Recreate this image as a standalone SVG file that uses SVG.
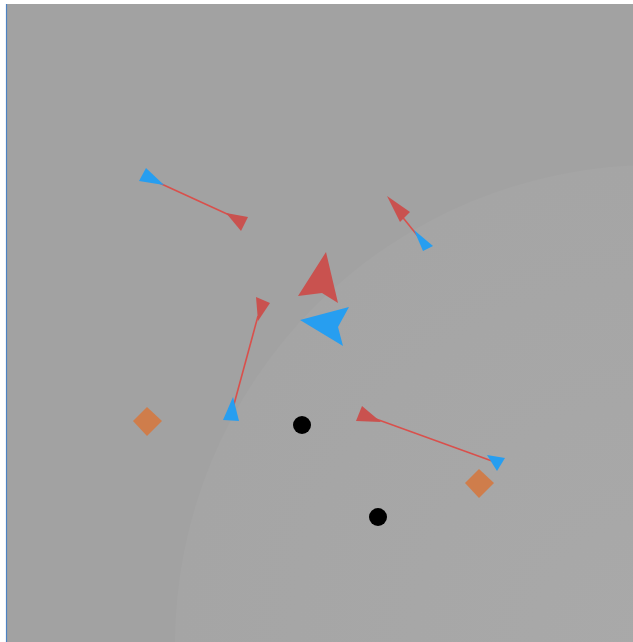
<svg xmlns="http://www.w3.org/2000/svg" width="633" height="642" viewBox="0 0 633 642">
  <style>
    .red { fill: #c9524f; }
    .blue { fill: #279ef0; }
    .link { stroke: #d9504c; stroke-width: 1.6; fill: none; }
    .dia { fill: #cf7d4b; }
    .dot { fill: #000000; }
  </style>
  <defs>
    <radialGradient id="glow" cx="655" cy="645" r="480" gradientUnits="userSpaceOnUse">
      <stop offset="0" stop-color="#a9a9a9"/>
      <stop offset="1" stop-color="#a5a5a5"/>
    </radialGradient>
  </defs>
  <rect x="0" y="0" width="633" height="642" fill="#ffffff"/>
  <rect x="6" y="4" width="627" height="638" fill="#a2a2a2"/>
  <circle cx="655" cy="645" r="480" fill="url(#glow)"/>
  <line x1="6.5" y1="4" x2="6.5" y2="642" stroke="#4d82c2" stroke-width="1.2"/>

  <g id="connectors">
    <line class="link" x1="155" y1="181" x2="238" y2="219"/>
    <line class="link" x1="400" y1="214" x2="421" y2="240"/>
    <line class="link" x1="258" y1="316" x2="233" y2="408"/>
    <line class="link" x1="376" y1="419" x2="492" y2="461"/>
  </g>

  <g id="arrow1">
    <polygon class="blue" points="146,168 139,181 164,185"/>
    <polygon class="red" points="226,213 248,217 241,231"/>
  </g>
  <g id="arrow2">
    <polygon class="red" points="387,196 410,212 400,222"/>
    <polygon class="blue" points="414,230 433,246 423,251"/>
  </g>
  <g id="arrow3">
    <polygon class="red" points="256,297 270,303 258,321"/>
    <polygon class="blue" points="233,397 223,420 239,421"/>
  </g>
  <g id="arrow4">
    <polygon class="red" points="362,406 356,421 381,422"/>
    <polygon class="blue" points="487,455 505,458 497,471"/>
  </g>
  <g id="agent-red">
    <polygon class="red" points="326,252 298,296 322,293 338,303"/>
  </g>
  <g id="agent-blue">
    <polygon class="blue" points="349,307 300,320 343,346 338,327"/>
  </g>
  <g id="goal1"><polygon class="dia" points="147,407 162,421 147,436 133,421"/></g>
  <g id="goal2"><polygon class="dia" points="479,469 494,483 479,498 465,483"/></g>
  <g id="obstacle1"><circle class="dot" cx="302" cy="425" r="9"/></g>
  <g id="obstacle2"><circle class="dot" cx="378" cy="517" r="9"/></g>
</svg>
